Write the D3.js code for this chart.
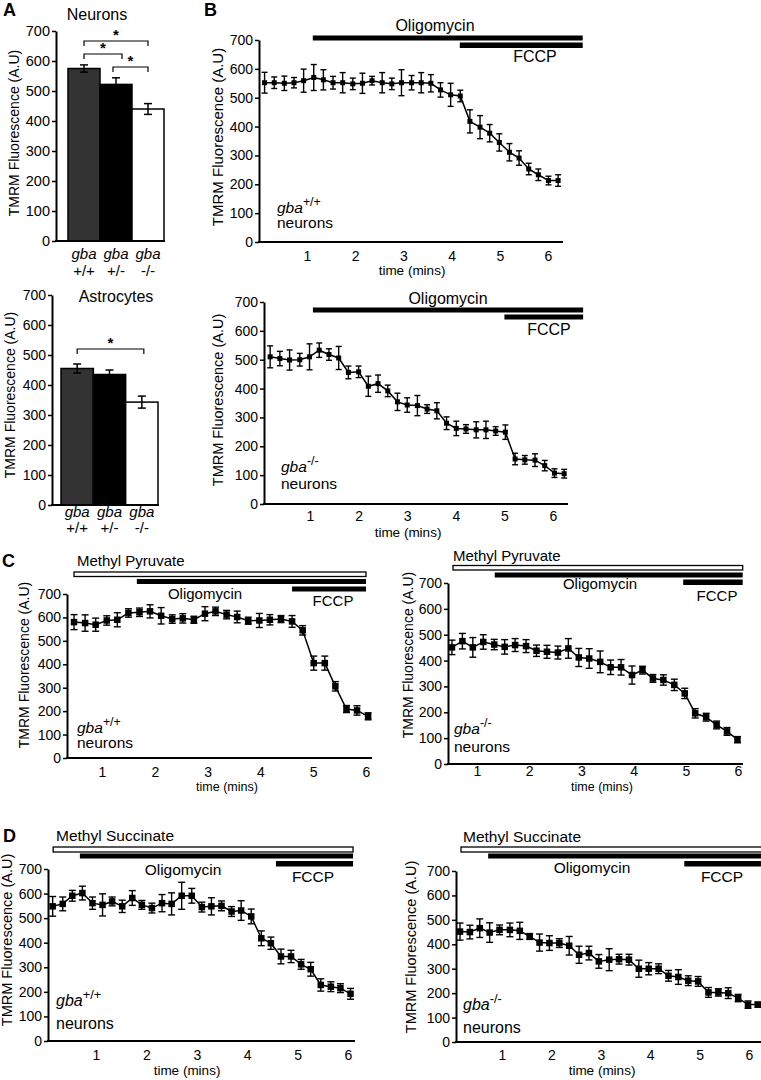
<!DOCTYPE html>
<html><head><meta charset="utf-8">
<script src="https://cdn.jsdelivr.net/npm/d3@7/dist/d3.min.js"></script>
<style>body{margin:0;background:#fff}svg{display:block}text{font-family:"Liberation Sans",Arial,sans-serif;fill:#000}</style>
</head><body><svg id="c" width="761" height="1080"></svg>
<script>
// ---------- DATA ----------
const genotypes = ["+/+", "+/-", "-/-"];
const yTicks = [0, 100, 200, 300, 400, 500, 600, 700];
const xTicks = [1, 2, 3, 4, 5, 6];

// Panel A
const neuronMeans = [575, 522, 440];
const neuronErr = [12, 22, 18];
const astroMeans = [455, 435, 343];
const astroErr = [15, 15, 20];

// Panel B top (gba+/+)
const bTopTime = [0.12,0.32,0.53,0.73,0.93,1.14,1.34,1.54,1.74,1.95,2.15,2.35,2.56,2.76,2.96,3.17,3.37,3.57,3.77,3.98,4.18,4.38,4.59,4.79,4.99,5.20,5.40,5.60,5.80,6.01,6.21];
const bTopVal = [552,552,550,552,559,570,562,552,552,548,550,559,552,548,552,552,552,550,527,510,506,418,398,377,345,311,291,253,233,213,213];
const bTopErr = [36,20,25,18,40,45,35,22,35,20,35,15,35,20,45,25,35,30,25,40,20,40,40,30,30,30,25,20,20,15,20];
const bTopOligo = [1.12, 6.72];
const bTopFCCP = [4.17, 6.72];

// Panel B bottom (gba-/-)
const bBotTime = [0.18,0.38,0.58,0.79,0.99,1.19,1.39,1.59,1.79,2.00,2.20,2.40,2.60,2.80,3.00,3.21,3.41,3.61,3.81,4.01,4.21,4.42,4.62,4.82,5.02,5.22,5.42,5.63,5.83,6.03,6.23];
const bBotVal = [510,504,499,500,510,533,518,506,456,458,408,417,392,354,343,341,329,323,280,262,260,257,257,253,249,156,153,152,133,107,105];
const bBotErr = [38,25,35,22,45,25,20,40,22,20,35,30,20,30,25,35,15,28,22,25,15,28,30,15,25,20,15,22,18,15,15];
const bBotOligo = [1.06, 6.62];
const bBotFCCP = [5.0, 6.62];

// Panel C left (methyl pyruvate, gba+/+)
const cLeftTime = [0.47,0.68,0.88,1.09,1.29,1.50,1.71,1.91,2.12,2.33,2.53,2.74,2.95,3.15,3.36,3.56,3.77,3.98,4.18,4.39,4.60,4.80,5.01,5.22,5.42,5.63,5.83,6.04];
const cLeftVal = [580,576,569,587,590,619,622,626,607,593,596,590,616,626,612,602,586,587,590,593,583,545,405,405,306,209,203,178];
const cLeftErr = [32,35,28,20,30,18,18,28,35,18,20,15,30,18,18,25,15,30,22,15,25,20,30,30,20,15,20,15];
const cLeftMP = [0.47, 6.0];
const cLeftOligo = [1.66, 6.0];
const cLeftFCCP = [4.60, 6.0];

// Panel C right (methyl pyruvate, gba-/-)
const cRightTime = [0.52,0.72,0.92,1.12,1.33,1.53,1.73,1.94,2.14,2.34,2.55,2.75,2.95,3.15,3.36,3.56,3.76,3.97,4.17,4.37,4.57,4.78,4.98,5.18,5.39,5.59,5.79,5.99];
const cRightVal = [451,475,451,472,462,453,460,456,438,434,431,447,412,408,395,374,374,344,363,331,325,306,273,196,181,151,126,94];
const cRightErr = [28,30,38,28,20,28,25,25,22,25,25,38,35,38,42,28,30,35,15,15,20,22,20,18,15,15,15,12];
const cRightMP = [0.54, 6.09];
const cRightOligo = [1.34, 6.09];
const cRightFCCP = [4.95, 6.09];

// Panel D left (methyl succinate, gba+/+)
const dLeftTime = [0.14,0.34,0.53,0.73,0.93,1.13,1.32,1.52,1.72,1.91,2.11,2.31,2.50,2.70,2.90,3.10,3.29,3.49,3.69,3.88,4.08,4.28,4.47,4.67,4.87,5.07,5.26,5.46,5.66,5.85,6.05];
const dLeftVal = [548,558,591,602,561,554,568,548,582,554,541,561,558,591,591,545,548,550,527,531,507,418,398,344,344,312,292,228,221,215,192];
const dLeftErr = [40,28,22,28,25,45,18,25,30,18,20,35,45,55,30,20,35,20,20,40,30,30,25,30,25,20,28,25,20,18,22];
const dLeftMS = [0.15, 6.1];
const dLeftOligo = [0.68, 6.1];
const dLeftFCCP = [4.57, 6.1];

// Panel D right (methyl succinate, gba-/-)
const dRightTime = [0.15,0.35,0.55,0.75,0.95,1.16,1.36,1.56,1.76,1.96,2.16,2.36,2.56,2.76,2.96,3.17,3.37,3.57,3.77,3.97,4.17,4.37,4.57,4.77,4.97,5.18,5.38,5.58,5.78,5.98,6.18];
const dRightVal = [452,450,466,448,459,459,455,432,407,405,405,394,357,364,330,337,339,337,300,300,300,271,266,251,248,203,203,200,180,153,153];
const dRightErr = [35,28,38,40,20,28,35,12,35,30,18,38,35,28,28,45,20,22,35,25,20,22,30,20,20,20,15,22,15,15,10];
const dRightMS = [0.17, 6.4];
const dRightOligo = [0.72, 6.4];
const dRightFCCP = [4.69, 6.4];

// ---------- DRAWING ----------
const svg = d3.select("#c");
const FONT = '"Liberation Sans", Arial, sans-serif';

function txt(g, x, y, s, size, opts = {}) {
  const t = g.append("text").attr("x", x).attr("y", y).attr("font-size", size).text(s);
  if (opts.anchor) t.attr("text-anchor", opts.anchor);
  if (opts.bold) t.attr("font-weight", "bold");
  if (opts.italic) t.attr("font-style", "italic");
  return t;
}

function yAxis(g, y, ax, size) {
  const a = g.append("g").attr("transform", `translate(${ax},0)`)
    .call(d3.axisLeft(y).tickValues(yTicks).tickSize(4).tickSizeOuter(0).tickPadding(2).tickFormat(d3.format("d")));
  a.attr("font-family", FONT);
  a.select(".domain").attr("stroke", "#000").attr("stroke-width", 2);
  a.selectAll(".tick line").attr("stroke", "#000").attr("stroke-width", 1.5);
  a.selectAll(".tick text").attr("font-size", size).attr("fill", "#000");
}

function yLabel(g, x, cy, size) {
  g.append("text").attr("transform", `translate(${x},${cy}) rotate(-90)`)
    .attr("text-anchor", "middle").attr("font-size", size).text("TMRM Fluorescence (A.U)");
}

function genoLabel(g, x, y1, y2, sup, size) {
  const t = g.append("text").attr("x", x).attr("y", y1).attr("font-size", size);
  t.append("tspan").attr("font-style", "italic").text("gba");
  t.append("tspan").attr("dy", -size * 0.45).attr("font-size", size * 0.8).text(sup);
  txt(g, x, y2, "neurons", size);
}

function timePanel(p) {
  const g = svg.append("g");
  const x = d3.scaleLinear().domain([1, 6]).range([p.x1, p.x6]);
  const y = d3.scaleLinear().domain([0, 700]).range([p.y0, p.y700]);

  // treatment bars
  p.treat.forEach(tr => {
    g.append("rect")
      .attr("x", x(tr.span[0])).attr("y", tr.top)
      .attr("width", x(tr.span[1]) - x(tr.span[0])).attr("height", tr.h)
      .attr("fill", tr.open ? "#fff" : "#000")
      .attr("stroke", tr.open ? "#000" : "none").attr("stroke-width", 1.3);
    txt(g, tr.lx, tr.ly, tr.label, p.treatFont, { anchor: tr.anchor || "middle" });
  });

  // axes
  yAxis(g, y, p.ax, p.tickFont);
  g.append("line").attr("x1", p.ax - 1).attr("x2", p.axEnd).attr("y1", p.y0).attr("y2", p.y0)
    .attr("stroke", "#000").attr("stroke-width", 2);
  const xa = g.append("g").attr("transform", `translate(0,${p.y0})`)
    .call(d3.axisBottom(x).tickValues(xTicks).tickSize(0).tickFormat(d3.format("d")));
  xa.attr("font-family", FONT);
  xa.select(".domain").remove();
  xa.selectAll(".tick text").attr("font-size", p.tickFont).attr("fill", "#000")
    .attr("y", p.xTickBase - p.y0).attr("dy", 0);
  txt(g, p.xLabelX, p.xLabelY, "time (mins)", p.xLabelFont, { anchor: "middle" });
  yLabel(g, p.yLabelX, p.yLabelY, p.yLabelFont);

  // series
  const pts = p.time.map((t, i) => ({ t, v: p.val[i], e: p.err[i] }));
  g.append("path").datum(pts)
    .attr("d", d3.line().x(d => x(d.t)).y(d => y(d.v)))
    .attr("fill", "none").attr("stroke", "#000").attr("stroke-width", 1.5);
  const eb = g.append("g").attr("stroke", "#000").attr("stroke-width", 1.4);
  pts.forEach(d => {
    const cx = x(d.t), yt = y(d.v + d.e), yb = y(d.v - d.e), c = p.cap / 2;
    eb.append("line").attr("x1", cx).attr("x2", cx).attr("y1", yt).attr("y2", yb);
    eb.append("line").attr("x1", cx - c).attr("x2", cx + c).attr("y1", yt).attr("y2", yt);
    eb.append("line").attr("x1", cx - c).attr("x2", cx + c).attr("y1", yb).attr("y2", yb);
  });
  g.selectAll(null).data(pts).enter().append("rect")
    .attr("x", d => x(d.t) - p.ms / 2).attr("y", d => y(d.v) - p.ms / 2)
    .attr("width", p.ms).attr("height", p.ms).attr("fill", "#000");

  genoLabel(g, p.gx, p.gy1, p.gy2, p.sup, p.genoFont);
}

function barPanel(p) {
  const g = svg.append("g");
  const x = d3.scaleBand().domain(genotypes).range([p.b0, p.b1]).padding(0);
  const y = d3.scaleLinear().domain([0, 700]).range([p.y0, p.y700]);
  const fills = ["#333333", "#000000", "#ffffff"];
  g.selectAll(null).data(genotypes).enter().append("rect")
    .attr("x", d => x(d)).attr("y", (d, i) => y(p.means[i]))
    .attr("width", x.bandwidth()).attr("height", (d, i) => y(0) - y(p.means[i]))
    .attr("fill", (d, i) => fills[i]).attr("stroke", "#000").attr("stroke-width", 1.5);
  const eb = g.append("g").attr("stroke", "#000").attr("stroke-width", 1.5);
  genotypes.forEach((d, i) => {
    const cx = x(d) + x.bandwidth() / 2, yt = y(p.means[i] + p.err[i]), yb = y(p.means[i] - p.err[i]);
    eb.append("line").attr("x1", cx).attr("x2", cx).attr("y1", yt).attr("y2", yb);
    [yt, yb].forEach(yy => eb.append("line").attr("x1", cx - 4).attr("x2", cx + 4).attr("y1", yy).attr("y2", yy));
  });
  yAxis(g, y, p.ax, p.tickFont);
  g.append("line").attr("x1", p.ax - 1).attr("x2", p.b1 + 1).attr("y1", p.y0).attr("y2", p.y0)
    .attr("stroke", "#000").attr("stroke-width", 2);
  genotypes.forEach(d => {
    const cx = x(d) + x.bandwidth() / 2;
    txt(g, cx, p.ly1, "gba", p.labFont, { anchor: "middle", italic: true });
    txt(g, cx, p.ly2, d, p.labFont, { anchor: "middle" });
  });
  txt(g, p.titleX, p.titleY, p.title, p.titleFont, { anchor: "middle" });
  yLabel(g, p.yLabelX, p.yLabelY, p.yLabelFont);
  // significance brackets
  p.sig.forEach(s => {
    const xa = x(genotypes[s.a]) + x.bandwidth() / 2 + (s.da || 0);
    const xb = x(genotypes[s.b]) + x.bandwidth() / 2 + (s.db || 0);
    g.append("path").attr("d", `M${xa},${s.y + 5}V${s.y}H${xb}V${s.y + 5}`)
      .attr("fill", "none").attr("stroke", "#000").attr("stroke-width", 1.2);
    txt(g, (xa + xb) / 2, s.y - 1, "*", 15, { anchor: "middle", bold: true });
  });
}

// Panel A
barPanel({ means: neuronMeans, err: neuronErr, b0: 68, b1: 164, y0: 241, y700: 31, ax: 56,
  tickFont: 14.5, labFont: 15, ly1: 259, ly2: 276, title: "Neurons", titleX: 97, titleY: 20, titleFont: 16,
  yLabelX: 19, yLabelY: 133, yLabelFont: 14,
  sig: [{ a: 0, b: 2, y: 41 }, { a: 0, b: 1, y: 54, db: 6 }, { a: 1, b: 2, y: 67, da: -3 }] });
barPanel({ means: astroMeans, err: astroErr, b0: 61, b1: 158, y0: 505, y700: 295, ax: 52,
  tickFont: 14, labFont: 15, ly1: 517, ly2: 533, title: "Astrocytes", titleX: 116, titleY: 302, titleFont: 16,
  yLabelX: 15, yLabelY: 395, yLabelFont: 14,
  sig: [{ a: 0, b: 2, y: 349, db: 2 }] });

// Panel B
timePanel({ time: bTopTime, val: bTopVal, err: bTopErr, x1: 307, x6: 548, y0: 242, y700: 40, ax: 259, axEnd: 563,
  tickFont: 14, xTickBase: 261, xLabelX: 412, xLabelY: 275, xLabelFont: 13.5, yLabelX: 223, yLabelY: 137, yLabelFont: 15,
  ms: 5, cap: 6, treatFont: 16, gx: 277, gy1: 213, gy2: 228, sup: "+/+", genoFont: 15.5,
  treat: [{ span: bTopOligo, top: 35.5, h: 5, label: "Oligomycin", lx: 435, ly: 31 },
          { span: bTopFCCP, top: 42.5, h: 5.5, label: "FCCP", lx: 535, ly: 62 }] });
timePanel({ time: bBotTime, val: bBotVal, err: bBotErr, x1: 310, x6: 553, y0: 504, y700: 302, ax: 264, axEnd: 568,
  tickFont: 14, xTickBase: 521, xLabelX: 408, xLabelY: 537, xLabelFont: 13.5, yLabelX: 223, yLabelY: 400, yLabelFont: 14.5,
  ms: 5, cap: 6, treatFont: 16, gx: 281, gy1: 472, gy2: 489, sup: "-/-", genoFont: 15.5,
  treat: [{ span: bBotOligo, top: 307.5, h: 5, label: "Oligomycin", lx: 448, ly: 304 },
          { span: bBotFCCP, top: 314.5, h: 5, label: "FCCP", lx: 549, ly: 335 }] });

// Panel C
timePanel({ time: cLeftTime, val: cLeftVal, err: cLeftErr, x1: 102, x6: 366, y0: 758, y700: 594, ax: 67, axEnd: 372,
  tickFont: 14, xTickBase: 777, xLabelX: 227, xLabelY: 791, xLabelFont: 12.5, yLabelX: 29, yLabelY: 665, yLabelFont: 14,
  ms: 6.5, cap: 7, treatFont: 15, gx: 77, gy1: 733, gy2: 748, sup: "+/+", genoFont: 15.5,
  treat: [{ span: cLeftMP, top: 572, h: 4.5, open: true, label: "Methyl Pyruvate", lx: 77, ly: 566, anchor: "start" },
          { span: cLeftOligo, top: 579, h: 5, label: "Oligomycin", lx: 205, ly: 599 },
          { span: cLeftFCCP, top: 586.5, h: 5, label: "FCCP", lx: 333, ly: 606 }] });
timePanel({ time: cRightTime, val: cRightVal, err: cRightErr, x1: 477, x6: 738, y0: 764, y700: 583, ax: 448, axEnd: 743,
  tickFont: 14, xTickBase: 776, xLabelX: 602, xLabelY: 791, xLabelFont: 12.5, yLabelX: 413, yLabelY: 655, yLabelFont: 14,
  ms: 6.5, cap: 7, treatFont: 15, gx: 454, gy1: 734, gy2: 752, sup: "-/-", genoFont: 15.5,
  treat: [{ span: cRightMP, top: 565.5, h: 4.5, open: true, label: "Methyl Pyruvate", lx: 453, ly: 561, anchor: "start" },
          { span: cRightOligo, top: 572.5, h: 5, label: "Oligomycin", lx: 600, ly: 589 },
          { span: cRightFCCP, top: 579.5, h: 5.5, label: "FCCP", lx: 717, ly: 601 }] });

// Panel D
timePanel({ time: dLeftTime, val: dLeftVal, err: dLeftErr, x1: 96, x6: 348, y0: 1041, y700: 869, ax: 48, axEnd: 355,
  tickFont: 14, xTickBase: 1060, xLabelX: 187, xLabelY: 1075, xLabelFont: 13.5, yLabelX: 12, yLabelY: 940, yLabelFont: 14.5,
  ms: 6.5, cap: 7, treatFont: 15.5, gx: 56, gy1: 1006, gy2: 1029, sup: "+/+", genoFont: 16,
  treat: [{ span: dLeftMS, top: 847, h: 5, open: true, label: "Methyl Succinate", lx: 56, ly: 841, anchor: "start" },
          { span: dLeftOligo, top: 853.5, h: 5, label: "Oligomycin", lx: 183, ly: 875 },
          { span: dLeftFCCP, top: 861, h: 5.5, label: "FCCP", lx: 313, ly: 882 }] });
timePanel({ time: dRightTime, val: dRightVal, err: dRightErr, x1: 502, x6: 749, y0: 1042, y700: 871, ax: 456, axEnd: 761,
  tickFont: 14, xTickBase: 1060, xLabelX: 602, xLabelY: 1075, xLabelFont: 13.5, yLabelX: 416, yLabelY: 947, yLabelFont: 14.5,
  ms: 6.5, cap: 7, treatFont: 15.5, gx: 463, gy1: 1010, gy2: 1033, sup: "-/-", genoFont: 16,
  treat: [{ span: dRightMS, top: 847, h: 5, open: true, label: "Methyl Succinate", lx: 463, ly: 842, anchor: "start" },
          { span: dRightOligo, top: 853.5, h: 5, label: "Oligomycin", lx: 592, ly: 873 },
          { span: dRightFCCP, top: 861, h: 5.5, label: "FCCP", lx: 722, ly: 882 }] });

// panel letters
[["A", 3, 16], ["B", 204, 16], ["C", 2, 567], ["D", 3, 842]].forEach(([s, x, y]) =>
  txt(svg, x, y, s, 18, { bold: true }));
</script></body></html>
